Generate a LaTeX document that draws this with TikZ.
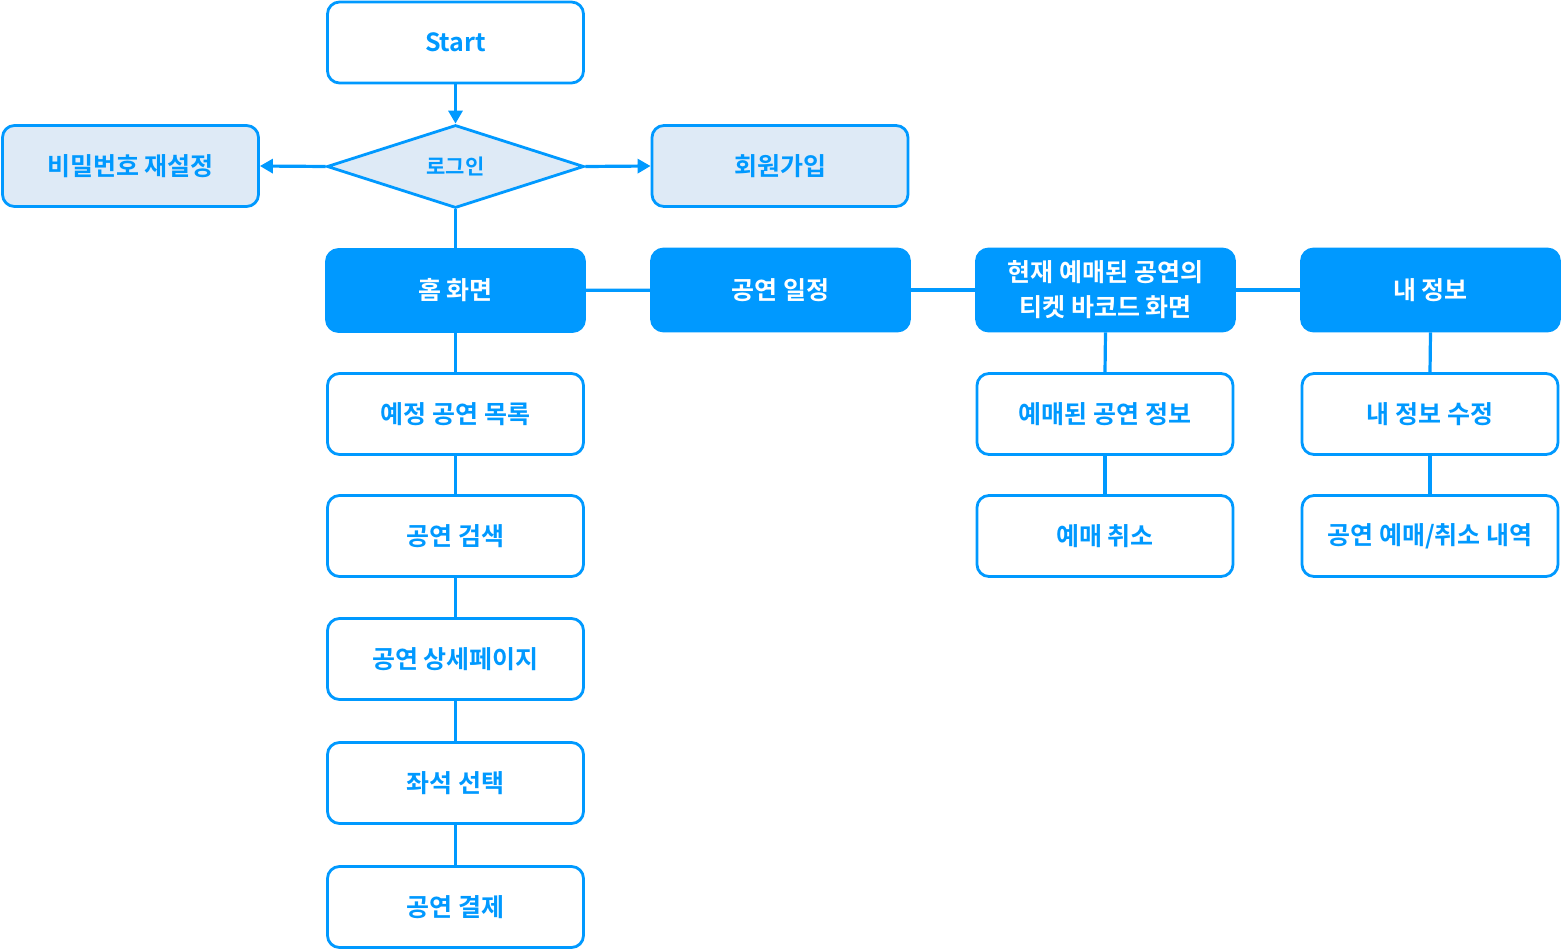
\documentclass[tikz,border=0pt]{standalone}
\usepackage{fontspec}
\setmainfont{Noto Sans CJK KR}[BoldFont={Noto Sans CJK KR Bold}]
\usetikzlibrary{shapes.geometric,arrows.meta}
\definecolor{mblue}{HTML}{0099FF}
\definecolor{lfill}{HTML}{DEEAF6}
\tikzset{
  box/.style={draw=mblue, line width=2.8pt, rounded corners=12pt, minimum width=256pt, minimum height=81pt, inner sep=0pt, font=\fontsize{25}{35}\selectfont\bfseries, text=mblue, align=center, fill=white},
  lbox/.style={box, fill=lfill},
  dbox/.style={box, fill=mblue, text=white, minimum width=258pt, minimum height=82pt},
  dia/.style={draw=mblue, line width=2.8pt, diamond, minimum width=257pt, minimum height=83pt, inner sep=0pt, fill=lfill, text=mblue, font=\fontsize{21}{25}\selectfont\bfseries},
  conn/.style={draw=mblue, line width=3.2pt},
  arr/.style={conn, -{Triangle[length=13pt,width=14pt]}}
}
\begin{document}
\begin{tikzpicture}[x=1pt,y=-1pt]
\useasboundingbox (0,0) rectangle (1561,950);
\node[box] (start) at (455.5,42.5) {Start};
\node[dia] (login) at (455.5,166.5) {로그인};
\node[lbox] (pw) at (130.5,166) {비밀번호 재설정};
\node[lbox] (join) at (780,166) {회원가입};
\node[dbox] (home) at (455.5,290.5) {홈 화면};
\node[dbox] (sched) at (780.5,290) {공연 일정};
\node[dbox] (ticket) at (1105.5,290) {현재 예매된 공연의\\티켓 바코드 화면};
\node[dbox] (my) at (1430.5,290) {내 정보};
\node[box] (list) at (455.5,414) {예정 공연 목록};
\node[box] (search) at (455.5,536) {공연 검색};
\node[box] (detail) at (455.5,659) {공연 상세페이지};
\node[box] (seat) at (455.5,783) {좌석 선택};
\node[box] (pay) at (455.5,907) {공연 결제};
\node[box] (binfo) at (1105,414) {예매된 공연 정보};
\node[box] (cancel) at (1105,536) {예매 취소};
\node[box] (myedit) at (1430,414) {내 정보 수정};
\node[box] (hist) at (1430,536) {공연 예매/취소 내역};
\draw[arr] (start) -- (login.north);
\draw[arr] (login.west) -- (pw.east);
\draw[arr] (login.east) -- (join.west);
\draw[conn] (login.south) -- (home.north);
\draw[conn] (home) -- (sched);
\draw[conn] (sched) -- (ticket);
\draw[conn] (ticket) -- (my);
\draw[conn] (home) -- (list);
\draw[conn] (list) -- (search);
\draw[conn] (search) -- (detail);
\draw[conn] (detail) -- (seat);
\draw[conn] (seat) -- (pay);
\draw[conn] (ticket.south) -- (binfo.north);
\draw[conn] (binfo) -- (cancel);
\draw[conn] (my.south) -- (myedit.north);
\draw[conn] (myedit) -- (hist);
\end{tikzpicture}
\end{document}
